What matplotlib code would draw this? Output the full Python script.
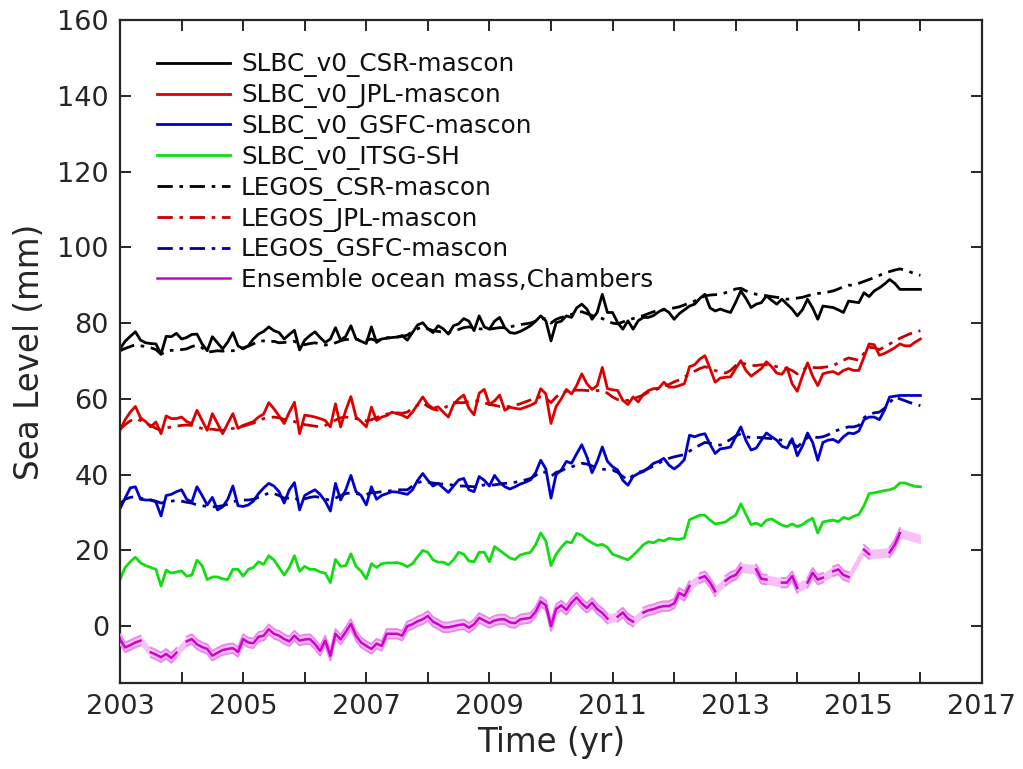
import numpy as np
import matplotlib
matplotlib.use("Agg")
import matplotlib.pyplot as plt

nan = float("nan")

# Monthly epochs, Jan 2003 .. Jan 2016
years = 2003 + np.arange(157) / 12.0

slbc_csr = [
    73.2, 75.2, 76.5, 77.7, 75.5, 74.8, 74.6, 74.5, 71.8, 76.5,
    76.4, 77.3, 75.8, 76.2, 77.0, 77.1, 74.5, 72.7, 76.4, 74.8,
    73.2, 75.0, 77.5, 74.0, 73.2, 74.0, 75.8, 77.1, 77.8, 79.0,
    78.0, 77.5, 75.8, 77.0, 78.1, 72.9, 75.5, 76.7, 77.7, 76.2,
    74.9, 75.8, 78.8, 75.5, 76.5, 79.3, 75.8, 75.2, 74.6, 79.0,
    74.9, 75.8, 76.0, 76.2, 76.3, 76.7, 75.5, 77.5, 79.5, 80.1,
    78.5, 77.5, 79.3, 78.5, 77.1, 79.3, 79.8, 81.2, 80.5, 78.0,
    81.9, 79.0, 78.4, 80.5, 81.5, 78.8, 77.5, 77.3, 77.8, 78.5,
    79.3, 80.5, 81.9, 80.6, 75.3, 80.1, 80.5, 81.9, 81.5, 84.0,
    85.0, 83.7, 81.0, 82.8, 87.6, 82.8, 82.8, 80.1, 78.4, 80.6,
    78.4, 80.6, 81.5, 81.5, 82.0, 83.0, 83.7, 82.8, 81.0, 82.5,
    83.5, 84.5, 85.0, 86.5, 87.6, 84.0, 83.2, 83.7, 83.2, 82.8,
    85.5, 88.5, 86.5, 84.1, 85.0, 85.4, 87.2, 86.0, 85.0, 86.3,
    85.0, 83.7, 81.9, 83.5, 86.3, 84.0, 81.0, 84.5, 84.3, 84.1,
    83.5, 82.8, 85.8, 85.6, 85.4, 88.0, 87.0, 88.5, 89.3, 90.3,
    91.5, 90.5, 88.9, 88.9, 88.9, 88.9, 88.9,
]

slbc_jpl = [
    51.7, 54.5, 56.5, 58.0, 55.0, 54.0, 52.6, 53.9, 50.8, 55.5,
    54.8, 54.8, 55.2, 54.0, 53.5, 57.0, 54.3, 51.7, 56.1, 53.5,
    50.8, 53.5, 56.1, 52.2, 53.0, 53.5, 54.0, 55.2, 56.0, 59.0,
    57.4, 55.5, 53.5, 56.5, 59.1, 50.8, 55.7, 55.5, 55.2, 54.8,
    54.3, 52.6, 58.7, 52.6, 57.0, 60.6, 55.2, 54.0, 52.6, 57.8,
    54.3, 55.2, 55.6, 56.5, 56.1, 55.7, 55.0, 56.5, 58.5, 60.5,
    58.5, 57.5, 57.9, 56.5, 55.2, 58.5, 60.0, 61.0, 57.5, 55.8,
    61.5, 62.5, 58.5, 59.5, 61.0, 57.0, 57.8, 57.5, 57.3, 57.8,
    58.3, 59.0, 62.7, 61.3, 53.5, 58.0, 60.0, 62.5, 61.3, 63.5,
    66.6, 64.0, 62.5, 63.5, 68.3, 62.7, 62.4, 62.2, 59.6, 58.5,
    60.5, 59.2, 61.2, 62.2, 62.7, 62.8, 64.4, 63.1, 63.1, 63.5,
    64.0, 68.5, 69.0, 70.5, 71.4, 68.0, 64.4, 65.5, 65.7, 65.8,
    68.0, 70.1, 67.5, 66.0, 67.0, 68.0, 69.8, 68.5, 66.8, 66.5,
    68.3, 64.0, 62.0, 66.0, 69.5, 66.0, 63.5, 66.6, 67.0, 67.2,
    66.5, 67.5, 68.0, 67.5, 67.5, 71.0, 74.5, 74.3, 71.5, 72.0,
    72.7, 73.5, 74.5, 74.0, 74.0, 75.0, 75.8,
]

slbc_gsfc = [
    31.0, 33.8, 36.5, 36.8, 33.5, 33.3, 33.3, 32.8, 29.1, 34.5,
    34.8, 35.5, 36.0, 33.5, 32.8, 36.8, 34.5, 32.0, 34.0, 30.7,
    31.5, 33.5, 37.0, 31.8, 31.6, 32.0, 33.0, 35.0, 36.5, 37.7,
    37.0, 35.5, 32.5, 36.0, 37.9, 30.7, 34.5, 35.3, 36.0, 34.8,
    33.0, 30.4, 37.7, 33.3, 36.0, 39.8, 35.5, 34.5, 32.0, 36.8,
    33.5, 34.5, 35.0, 35.5, 35.4, 35.1, 34.8, 36.0, 38.5, 40.3,
    38.5, 37.0, 37.7, 36.5, 35.3, 37.0, 38.6, 39.0, 36.0, 35.5,
    39.5, 38.5, 37.0, 39.8, 38.0, 36.8, 36.2, 36.8, 37.5, 38.0,
    38.6, 40.5, 43.8, 41.5, 33.8, 40.0, 41.2, 43.5, 43.0, 45.5,
    47.9, 44.7, 40.5, 43.5, 47.3, 43.5, 42.1, 41.2, 38.5, 37.2,
    39.5, 40.3, 40.8, 41.8, 43.0, 43.5, 44.3, 42.5, 41.5, 42.5,
    44.0, 50.4, 50.0, 50.5, 50.8, 48.0, 45.6, 46.8, 47.0, 47.3,
    50.0, 52.6, 49.0, 46.5, 47.0, 49.1, 51.0, 50.0, 49.1, 47.5,
    47.0, 49.5, 45.0, 47.5, 51.0, 48.5, 43.8, 48.5, 49.1, 49.3,
    48.5, 50.0, 51.0, 50.8, 51.5, 54.5, 55.2, 55.2, 54.5, 57.0,
    60.5, 60.7, 60.9, 60.9, 60.9, 60.9, 60.9,
]

slbc_itsg = [
    12.3, 15.5, 17.0, 18.2, 16.7, 16.0, 15.5, 15.0, 10.6, 14.8,
    14.0, 14.3, 14.6, 13.2, 13.5, 17.4, 16.0, 12.3, 13.0, 13.0,
    12.5, 12.3, 15.0, 15.0, 13.2, 15.0, 15.5, 17.0, 16.3, 18.6,
    17.5, 15.5, 13.5, 15.5, 18.6, 14.5, 15.8, 15.0, 15.0, 14.3,
    14.0, 11.5, 17.6, 15.8, 16.0, 19.1, 15.8, 14.5, 12.5, 16.5,
    15.5, 16.5, 16.7, 16.7, 16.8, 16.4, 15.7, 16.5, 18.3, 20.0,
    19.5, 17.5, 16.9, 16.9, 16.2, 17.5, 19.5, 19.0, 17.2, 17.0,
    19.5, 19.5, 17.0, 21.0, 20.0, 19.0, 18.0, 17.6, 18.8, 19.2,
    19.5, 21.5, 24.6, 22.5, 16.0, 19.0, 20.8, 22.3, 22.0, 24.5,
    24.0, 22.8, 22.0, 21.3, 21.6, 20.8, 19.0, 18.5, 18.0, 17.5,
    18.7, 20.0, 21.5, 22.3, 22.0, 22.8, 22.5, 23.2, 23.0, 22.9,
    23.3, 28.1, 28.7, 29.3, 29.3, 28.0, 27.0, 27.2, 27.5, 28.5,
    29.3, 32.3, 29.5, 26.8, 27.2, 26.5, 28.0, 28.3, 27.5, 26.7,
    26.3, 27.0, 26.3, 26.8, 27.8, 28.5, 24.6, 27.5, 27.8, 28.0,
    27.6, 28.7, 28.3, 29.0, 29.5, 31.8, 35.0, 35.2, 35.5, 35.8,
    36.0, 36.5, 37.8, 37.8, 37.3, 36.9, 36.8,
]

legos_csr = [
    72.7, 73.3, 73.8, 74.3, 74.0, 73.8, 73.5, 73.0, 71.8, 72.5,
    72.8, 72.9, 73.0, 73.2, 73.8, 74.2, 73.5, 72.3, 72.5, 72.7,
    72.6, 72.7, 72.7, 73.0, 73.5, 73.9, 74.5, 75.3, 75.3, 75.0,
    75.2, 74.8, 74.9, 75.0, 75.2, 74.5, 74.3, 74.6, 74.8, 74.5,
    74.2, 74.4, 74.8, 75.3, 75.7, 75.6, 75.7, 75.7, 75.5, 75.8,
    75.3, 75.8, 76.2, 76.0, 76.3, 76.5, 76.8, 77.8, 78.5, 79.0,
    78.5, 78.0, 77.8, 77.6, 77.5, 77.8, 78.3, 78.8, 79.0, 78.8,
    78.5, 78.4, 78.4, 78.6, 78.8, 78.8, 79.0, 79.3, 79.6, 79.8,
    80.0, 80.5, 81.0, 81.3, 80.0, 81.0, 81.5, 81.8, 82.3, 82.8,
    83.0, 82.5, 82.0, 81.5, 81.2, 80.5, 80.0, 79.8, 80.3, 80.8,
    81.2, 81.5, 82.0, 82.5, 83.0, 83.3, 83.5, 83.8, 84.0, 84.3,
    84.8, 85.3, 85.8, 86.5, 87.2, 87.4, 87.5, 87.6, 88.0, 88.5,
    89.0, 89.2, 88.5, 88.0, 87.6, 87.4, 87.2, 87.0, 86.8, 86.6,
    86.3, 86.4, 86.6, 86.8, 87.2, 87.6, 87.8, 88.0, 88.2, 88.5,
    89.0, 89.6, 90.0, 90.0, 90.5, 91.0, 91.5, 92.0, 92.6, 93.2,
    93.6, 94.0, 94.3, 94.0, 93.5, 93.0, 92.6,
]

legos_jpl = [
    52.0, 53.2, 54.2, 54.8, 54.3, 53.5, 53.0, 52.2, 51.7, 52.3,
    52.6, 52.8, 53.0, 53.1, 53.0, 52.6, 52.2, 52.0, 52.0, 51.8,
    51.7, 52.0, 52.2, 52.5, 52.8, 53.2, 53.6, 54.2, 54.8, 55.0,
    55.2, 55.0, 54.6, 54.3, 54.0, 53.5, 53.2, 53.0, 52.8, 52.6,
    53.0, 53.6, 54.4, 55.0, 55.2, 55.0, 54.8, 54.5, 54.2, 54.5,
    55.0, 55.7, 56.0, 56.1, 56.3, 56.2, 56.5, 57.5, 58.3, 59.0,
    58.0, 57.3, 57.0, 57.5, 58.2, 59.0, 59.0, 59.0, 59.3, 59.4,
    59.5, 59.0, 58.5, 58.3, 58.0, 57.9, 58.0, 58.3, 58.7, 59.2,
    59.7, 60.2, 60.5, 60.2, 59.0, 60.5, 61.5, 62.0, 62.2, 62.3,
    62.3, 62.2, 62.2, 62.2, 62.2, 61.5, 60.5, 59.8, 59.6, 59.6,
    60.0, 60.5, 61.0, 61.8, 62.2, 62.8, 63.3, 63.8, 64.5, 65.0,
    65.8, 66.5, 67.3, 68.0, 68.5, 68.0, 67.5, 67.0, 66.8, 67.5,
    68.8, 69.5, 69.2, 68.8, 68.8, 69.0, 69.0, 68.8, 68.5, 68.3,
    68.0, 67.5, 66.6, 67.5, 68.5, 68.3, 68.2, 68.3, 68.5, 68.8,
    69.5, 70.2, 70.8, 70.5, 70.2, 72.0, 73.6, 73.5, 73.0, 73.7,
    74.5, 75.2, 76.0, 76.6, 77.2, 77.6, 78.0,
]

legos_gsfc = [
    32.3, 33.5, 34.0, 34.2, 33.8, 33.5, 33.3, 33.0, 32.5, 32.8,
    33.0, 33.2, 33.0, 32.7, 32.5, 32.0, 31.8, 31.6, 31.5, 31.6,
    31.8, 32.2, 32.8, 33.2, 33.3, 33.3, 33.5, 34.0, 34.5, 35.2,
    35.0, 34.5, 33.8, 33.8, 34.0, 33.0, 33.6, 34.0, 34.2, 34.0,
    33.5, 33.3, 33.8, 34.5, 35.0, 35.2, 35.0, 34.8, 34.8, 35.2,
    35.3, 35.5, 35.6, 35.8, 36.0, 36.0, 36.0, 37.0, 37.8, 38.3,
    38.0, 37.8, 37.6, 37.5, 37.4, 37.2, 37.0, 37.0, 36.9, 36.8,
    37.0, 37.3, 37.2, 37.3, 37.5, 37.7, 37.8, 38.0, 38.3, 38.6,
    39.0, 39.8, 40.8, 40.6, 39.5, 40.6, 41.0, 41.7, 42.0, 42.6,
    43.0, 42.8, 42.3, 41.8, 41.5, 41.2, 41.2, 40.6, 39.5, 38.6,
    39.8, 40.6, 41.0, 41.6, 42.3, 43.0, 43.8, 44.3, 44.7, 45.0,
    45.3, 46.2, 47.0, 47.8, 48.5, 48.3, 48.0, 47.8, 48.5, 49.3,
    50.2, 50.8, 50.0, 49.8, 49.8, 49.8, 49.6, 49.5, 49.3, 49.1,
    48.8, 48.5, 47.3, 48.5, 49.8, 50.0, 49.8, 50.0, 50.5, 51.3,
    51.8, 52.3, 52.6, 52.6, 53.0, 55.0, 56.0, 56.3, 56.5, 57.5,
    59.0, 60.5, 60.0, 59.5, 59.0, 58.6, 58.2,
]

# Ensemble ocean mass (Chambers); nan marks months without a solution
ensemble_mass = [
    -3.4, -5.6, -5.0, -4.3, -3.8, nan, -6.9, -7.5, -8.2, -7.3,
    -8.4, -7.0, nan, -4.0, -3.4, -4.8, -5.5, -6.0, -7.8, -7.0,
    -6.3, -6.0, -5.8, -6.8, -3.4, -4.3, -4.5, -2.8, -2.5, -0.8,
    -2.0, -2.5, -3.4, -4.0, -2.5, -3.8, -3.5, -3.4, -4.7, -6.5,
    -3.8, -7.8, -2.0, -3.5, -1.5, 0.6, -2.5, -4.3, -5.2, -6.0,
    -4.6, -5.2, -2.0, -2.0, -2.0, -2.5, 0.0, 0.5, 1.3, 1.8,
    2.7, 1.2, 0.5, -0.3, -0.3, 0.0, 0.3, 0.5, -0.4, 0.5,
    2.2, 1.5, 0.8, 1.5, 1.8, 1.8, 1.0, 0.8, 1.8, 2.0,
    2.2, 3.8, 6.5, 5.5, 0.0, 4.5, 5.5, 4.3, 6.2, 7.6,
    6.0, 4.8, 6.2, 4.5, 3.5, 2.0, nan, 2.5, 3.6, 2.0,
    1.2, nan, 3.6, 4.2, 4.5, 5.0, 5.3, 5.3, 6.0, 8.8,
    8.0, 10.6, nan, 12.7, 13.2, 11.5, 9.2, nan, 12.0, 13.0,
    13.5, 15.4, nan, nan, 15.0, 12.5, 12.3, nan, nan, 11.5,
    11.5, 13.2, 10.1, nan, 11.5, 14.1, 12.3, 12.8, nan, 14.5,
    15.0, 13.5, 13.0, nan, nan, 20.2, 19.0, nan, nan, nan,
    19.5, 21.5, 24.6, nan, nan, nan, 23.0,
]
ensemble_spread = 1.25  # mm, half-width of the ensemble envelope

labels = [
    "SLBC_v0_CSR-mascon", "SLBC_v0_JPL-mascon", "SLBC_v0_GSFC-mascon",
    "SLBC_v0_ITSG-SH", "LEGOS_CSR-mascon", "LEGOS_JPL-mascon",
    "LEGOS_GSFC-mascon", "Ensemble ocean mass,Chambers",
]

ink = "#262626"
plt.rcParams["font.family"] = ["DejaVu Sans"]

fig = plt.figure(figsize=(10.23, 7.69), dpi=100)
ax = fig.add_axes([0.1173, 0.1118, 0.8426, 0.8622])

dashdot = (0, (5.5, 2.4, 1.3, 2.4))
lw = 2.0

ax.plot(years, slbc_csr, color="#000000", lw=lw, label=labels[0])
ax.plot(years, slbc_jpl, color="#dd0000", lw=lw, label=labels[1])
ax.plot(years, slbc_gsfc, color="#0000cc", lw=lw, label=labels[2])
ax.plot(years, slbc_itsg, color="#11dd11", lw=lw, label=labels[3])
ax.plot(years, legos_csr, color="#000000", lw=lw, ls=dashdot, label=labels[4])
ax.plot(years, legos_jpl, color="#c80000", lw=lw, ls=dashdot, label=labels[5])
ax.plot(years, legos_gsfc, color="#00009a", lw=lw, ls=dashdot, label=labels[6])

ens = np.array(ensemble_mass, dtype=float)
ok = ~np.isnan(ens)
ax.fill_between(years[ok], ens[ok] - ensemble_spread, ens[ok] + ensemble_spread,
                color="#f8c0f8", lw=0, zorder=2)
ax.plot(years, ens - ensemble_spread, color="#e88ae8", lw=1.4, zorder=3)
ax.plot(years, ens + ensemble_spread, color="#e88ae8", lw=1.4, zorder=3)
ax.plot(years, ens, color="#d000d0", lw=1.8, zorder=4, label=labels[7])

ax.set_xlim(2003, 2017)
ax.set_ylim(-15, 160)
ax.set_xticks(np.arange(2003, 2018))
ax.set_xticklabels([str(y) if (y - 2003) % 2 == 0 else "" for y in range(2003, 2018)])
ax.set_yticks(np.arange(0, 161, 20))

ax.tick_params(direction="in", length=8, width=1.4, colors=ink, labelsize=19.5,
               top=True, right=True, pad=8)
for s in ax.spines.values():
    s.set_linewidth(1.6)
    s.set_color(ink)

ax.set_xlabel("Time (yr)", fontsize=23.5, color=ink, labelpad=4)
ax.set_ylabel("Sea Level (mm)", fontsize=23.5, color=ink, labelpad=8)

ax.legend(loc="upper left", bbox_to_anchor=(0.043, 0.951), frameon=False,
          fontsize=17.8, handlelength=2.95, handletextpad=0.45,
          labelspacing=0.235, borderpad=0, borderaxespad=0, labelcolor="#111111")

fig.savefig("out.png", dpi=100)
